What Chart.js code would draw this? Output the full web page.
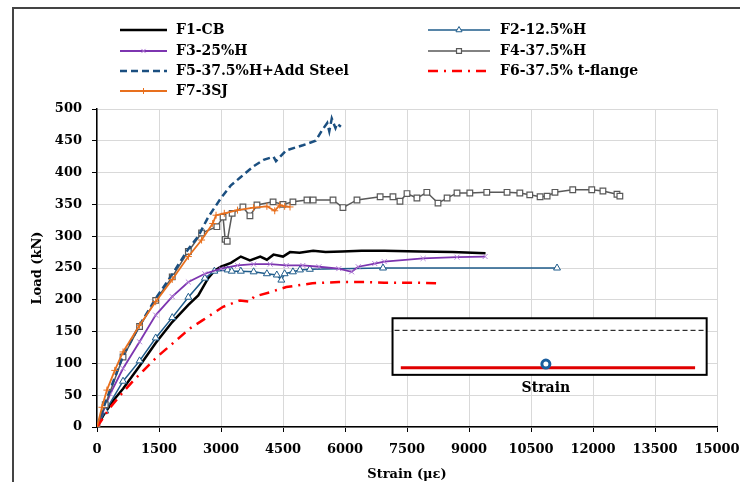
<!DOCTYPE html>
<html lang="en">
<head>
  <meta charset="UTF-8">
  <title>Load vs Strain</title>
  <script src="https://cdn.jsdelivr.net/npm/chart.js"></script>
  <style>
    body { margin: 0; background: #fff; }
    .wrap { position: relative; width: 740px; height: 482px; overflow: hidden; }
    .frame { position: absolute; left: 12px; top: 7px; right: -5px; bottom: -5px;
             border-left: 2px solid #444; border-top: 2px solid #444; pointer-events: none; }
  </style>
</head>
<body>
  <div class="wrap">
    <canvas id="chart" width="740" height="482"></canvas>
    <div class="frame"></div>
  </div>

  <script>
    // --- data (strain in με, load in kN) ---
    const xTicks = { min: 0, max: 15000, step: 1500 };
    const yTicks = { min: 0, max: 500, step: 50 };

    const f1Strain = [0, 150, 400, 630, 1030, 1420, 1820, 2210, 2450, 2690, 2850, 3000, 3240, 3480, 3700, 3950, 4110, 4270, 4500, 4670, 4900, 5230, 5530, 5930, 6400, 6950, 7800, 8600, 9400];
    const f1Load   = [0, 18, 42, 60, 96, 132, 165, 192, 207, 234, 246, 252, 258, 268, 262, 268, 263, 271, 268, 275, 274, 277, 275, 276, 277, 277, 276, 275, 273];

    const f2Strain = [0, 200, 630, 1030, 1420, 1820, 2210, 2610, 2840, 3160, 3260, 3480, 3790, 4110, 4350, 4460, 4540, 4740, 4910, 5150, 6920, 11130];
    const f2Load   = [0, 25, 72, 104, 140, 172, 204, 234, 245, 247, 245, 245, 244, 241, 239, 231, 241, 244, 247, 248, 250, 250];

    const f3Strain = [0, 320, 630, 1030, 1420, 1820, 2210, 2610, 3000, 3400, 3790, 4190, 4580, 4980, 5370, 5850, 6160, 6320, 6720, 6950, 7890, 8710, 9390];
    const f3Load   = [0, 52, 92, 134, 176, 205, 228, 241, 249, 254, 256, 256, 254, 254, 252, 249, 244, 252, 257, 260, 265, 267, 268];

    const f4Strain = [0, 200, 630, 1030, 1420, 1820, 2210, 2530, 2900, 3050, 3100, 3150, 3270, 3530, 3700, 3870, 4260, 4500, 4740, 5080, 5230, 5710, 5950, 6290, 6850, 7160, 7330, 7500, 7740, 7980, 8250, 8470, 8710, 9020, 9430, 9920, 10230, 10470, 10720, 10890, 11080, 11510, 11970, 12240, 12580, 12650];
    const f4Load   = [0, 35, 110, 158, 199, 236, 276, 305, 315, 330, 295, 292, 336, 346, 332, 349, 354, 350, 354, 357, 357, 357, 345, 357, 362, 362, 355, 367, 360, 369, 352, 360, 368, 368, 369, 369, 368, 365, 362, 363, 369, 373, 373, 371, 366, 363];

    const f5Strain = [0, 200, 630, 1030, 1420, 1820, 2210, 2450, 2690, 3000, 3240, 3480, 3790, 4030, 4270, 4330, 4580, 4980, 5290, 5450, 5570, 5620, 5680, 5770, 5810, 5900];
    const f5Load   = [0, 38, 112, 160, 202, 240, 280, 300, 330, 360, 380, 393, 410, 420, 425, 418, 435, 443, 450, 467, 478, 465, 485, 470, 477, 472];

    const f6Strain = [0, 310, 630, 870, 1110, 1450, 1770, 2250, 2560, 3050, 3460, 3700, 3800, 4190, 4580, 5210, 5850, 6480, 6950, 7600, 8340];
    const f6Load   = [0, 30, 55, 72, 88, 110, 128, 155, 168, 189, 199, 197, 205, 212, 220, 226, 228, 228, 227, 227, 226];

    const f7Strain = [0, 120, 240, 430, 630, 1030, 1420, 1820, 2210, 2530, 2800, 2880, 3080, 3400, 3790, 4110, 4300, 4420, 4540, 4670];
    const f7Load   = [0, 31, 58, 89, 118, 160, 197, 232, 268, 294, 320, 333, 336, 341, 345, 347, 340, 349, 347, 346];

    const seriesNames = ['F1-CB', 'F2-12.5%H', 'F3-25%H', 'F4-37.5%H', 'F5-37.5%H+Add Steel', 'F6-37.5% t-flange', 'F7-3SJ'];

    // inset sketch, placed in data units so it follows the axes
    const inset = { x0: 7150, x1: 14750, yTop: 171, yBottom: 82, dashY: 152, redY: 93, redX0: 7350, redX1: 14470, gaugeX: 10860, gaugeY: 99, labelY: 61 };

    const FONT = '"DejaVu Serif", "Liberation Serif", serif';

    function pts(xs, ys) {
      return xs.map((x, i) => ({ x: x, y: ys[i] }));
    }

    const styles = [
      { borderColor: '#000000', borderWidth: 2.5, pointRadius: 0 },
      { borderColor: '#1F5C8B', borderWidth: 1.5, pointStyle: 'triangle', pointRadius: 4, pointBackgroundColor: '#fff', pointBorderColor: '#1F5C8B', pointBorderWidth: 1 },
      { borderColor: '#7D35B0', borderWidth: 1.8, pointStyle: 'crossRot', pointRadius: 3.5, pointBorderColor: '#B27FD6', pointBorderWidth: 1 },
      { borderColor: '#595959', borderWidth: 1.5, pointStyle: 'rect', pointRadius: 4, pointBackgroundColor: '#fff', pointBorderColor: '#595959', pointBorderWidth: 1.2 },
      { borderColor: '#1B4F80', borderWidth: 2.5, borderDash: [7, 4], pointRadius: 0 },
      { borderColor: '#FF0000', borderWidth: 2.5, borderDash: [10, 6, 2, 6], pointRadius: 0 },
      { borderColor: '#E8701E', borderWidth: 1.8, pointStyle: 'cross', pointRadius: 3.5, pointBorderColor: '#E8701E', pointBorderWidth: 1 }
    ];

    const allData = [
      pts(f1Strain, f1Load), pts(f2Strain, f2Load), pts(f3Strain, f3Load), pts(f4Strain, f4Load),
      pts(f5Strain, f5Load), pts(f6Strain, f6Load), pts(f7Strain, f7Load)
    ];

    const datasets = allData.map((d, i) => Object.assign({
      label: seriesNames[i],
      data: d,
      showLine: true,
      fill: false,
      tension: 0,
      order: 7 - i
    }, styles[i]));

    // legend in two columns, drawn by hand
    const legendPlugin = {
      id: 'twoColLegend',
      afterDraw(chart) {
        const ctx = chart.ctx;
        const rowsY = [30, 51, 71, 91];
        const cols = [{ x0: 120, x1: 167, tx: 176 }, { x0: 428, x1: 490, tx: 500 }];
        ctx.save();
        chart.data.datasets.forEach((ds, i) => {
          const c = cols[i % 2];
          const y = rowsY[Math.floor(i / 2)];
          ctx.strokeStyle = ds.borderColor;
          ctx.lineWidth = ds.borderWidth;
          ctx.setLineDash(ds.borderDash || []);
          ctx.beginPath();
          ctx.moveTo(c.x0, y);
          ctx.lineTo(c.x1, y);
          ctx.stroke();
          ctx.setLineDash([]);
          if (ds.pointStyle && ds.pointRadius > 0) {
            ctx.fillStyle = ds.pointBackgroundColor || ds.borderColor;
            ctx.strokeStyle = ds.pointBorderColor || ds.borderColor;
            ctx.lineWidth = ds.pointBorderWidth || 1;
            Chart.helpers.drawPoint(ctx, { pointStyle: ds.pointStyle, radius: ds.pointRadius - 0.5, borderWidth: ds.pointBorderWidth || 1, rotation: 0 }, (c.x0 + c.x1) / 2, y);
          }
          ctx.fillStyle = '#000';
          ctx.font = 'bold 14px ' + FONT;
          ctx.textBaseline = 'middle';
          ctx.textAlign = 'left';
          ctx.fillText(ds.label, c.tx, y);
        });
        ctx.restore();
      }
    };

    // the small gauge sketch inside the plot
    const insetPlugin = {
      id: 'insetSketch',
      afterDatasetsDraw(chart) {
        const ctx = chart.ctx;
        const xs = chart.scales.x, ys = chart.scales.y;
        const X = v => xs.getPixelForValue(v), Y = v => ys.getPixelForValue(v);
        ctx.save();
        ctx.fillStyle = '#fff';
        ctx.fillRect(X(inset.x0), Y(inset.yTop), X(inset.x1) - X(inset.x0), Y(inset.yBottom) - Y(inset.yTop));
        ctx.strokeStyle = '#000';
        ctx.lineWidth = 2;
        ctx.strokeRect(X(inset.x0), Y(inset.yTop), X(inset.x1) - X(inset.x0), Y(inset.yBottom) - Y(inset.yTop));
        ctx.lineWidth = 1;
        ctx.setLineDash([5, 3]);
        ctx.beginPath();
        ctx.moveTo(X(inset.x0) + 2, Y(inset.dashY));
        ctx.lineTo(X(inset.x1) - 2, Y(inset.dashY));
        ctx.stroke();
        ctx.setLineDash([]);
        ctx.strokeStyle = '#E00000';
        ctx.lineWidth = 3;
        ctx.beginPath();
        ctx.moveTo(X(inset.redX0), Y(inset.redY));
        ctx.lineTo(X(inset.redX1), Y(inset.redY));
        ctx.stroke();
        ctx.fillStyle = '#fff';
        ctx.strokeStyle = '#1B5E9E';
        ctx.lineWidth = 3;
        ctx.beginPath();
        ctx.arc(X(inset.gaugeX), Y(inset.gaugeY), 4, 0, Math.PI * 2);
        ctx.fill();
        ctx.stroke();
        ctx.fillStyle = '#000';
        ctx.font = 'bold 14px ' + FONT;
        ctx.textAlign = 'center';
        ctx.textBaseline = 'middle';
        ctx.fillText('Strain', X(inset.gaugeX), Y(inset.labelY));
        ctx.restore();
      }
    };

    const tickFont = { family: FONT, size: 13, weight: 'bold' };

    new Chart(document.getElementById('chart').getContext('2d'), {
      type: 'scatter',
      data: { datasets: datasets },
      options: {
        responsive: false,
        animation: false,
        layout: { padding: { top: 109, left: 30, right: 23, bottom: 0 } },
        plugins: { legend: { display: false }, tooltip: { enabled: false } },
        scales: {
          x: {
            type: 'linear',
            min: xTicks.min, max: xTicks.max,
            ticks: { stepSize: xTicks.step, color: '#000', font: tickFont, padding: 10, maxRotation: 0, callback: v => String(v) },
            grid: { color: '#D9D9D9', tickColor: '#000', tickLength: 5 },
            border: { color: '#000', width: 1.5 },
            title: { display: true, text: 'Strain (με)', color: '#000', font: tickFont, padding: { top: 1, bottom: 0 } },
            afterFit: s => { s.height = 55; s.paddingLeft = 0; s.paddingRight = 0; }
          },
          y: {
            min: yTicks.min, max: yTicks.max,
            ticks: { stepSize: yTicks.step, color: '#000', font: tickFont, padding: 10, callback: v => String(v) },
            grid: { color: '#D9D9D9', tickColor: '#000', tickLength: 5 },
            border: { color: '#000', width: 1.5 },
            title: { display: true, text: 'Load (kN)', color: '#000', font: tickFont, padding: { top: 0, bottom: 4 } },
            afterFit: s => { s.width = 67; s.paddingTop = 0; s.paddingBottom = 0; }
          }
        }
      },
      plugins: [legendPlugin, insetPlugin]
    });
  </script>
</body>
</html>
